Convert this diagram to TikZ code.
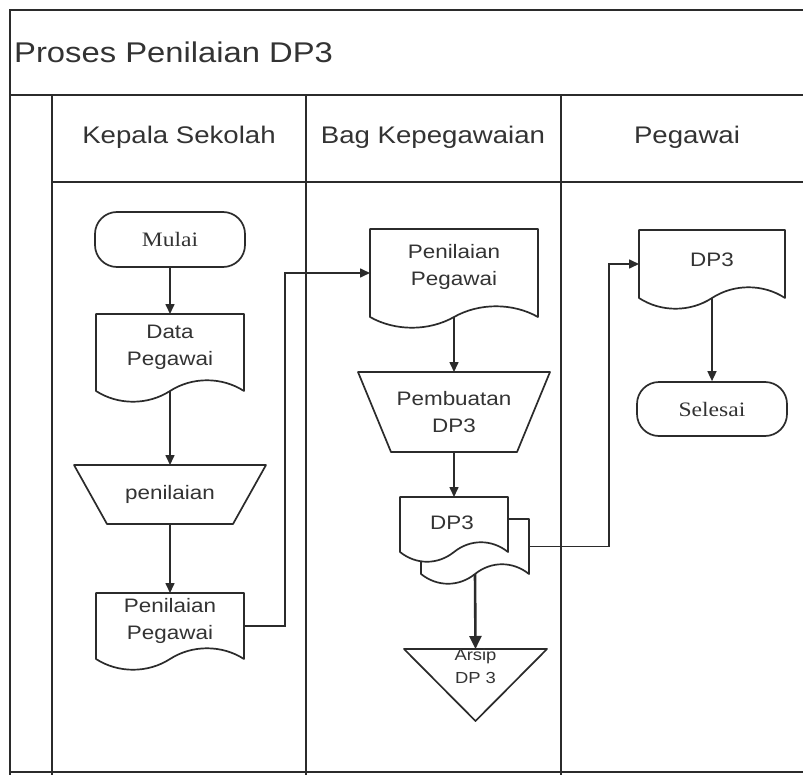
\documentclass[tikz,border=0pt]{standalone}
\usepackage{fontspec}
\setmainfont{Liberation Sans}[FakeStretch=1.15]
\newfontfamily\termfont{Liberation Serif}[FakeStretch=1.15]
\usetikzlibrary{arrows.meta,calc}
\definecolor{ink}{HTML}{2B2B2B}
\definecolor{txtc}{HTML}{333333}

\tikzset{
  frame/.style={draw=ink, line width=2.2pt},
  shp/.style={draw=ink, line width=1.7pt, fill=white, line join=round},
  flow/.style={draw=ink, line width=1.6pt, -{Triangle[length=10pt,width=9pt]}},
  boldflow/.style={draw=ink, line width=2.6pt, -{Triangle[length=13pt,width=12pt]}},
  area/.style={draw=none, inner sep=0pt, outer sep=0pt},
  lbl/.style={text=txtc, align=center, inner sep=0pt, font=\fontsize{19.5}{27}\selectfont},
  smalllbl/.style={text=txtc, align=center, inner sep=0pt, font=\fontsize{16}{23}\selectfont},
  term/.style={shp, rounded corners=22pt, inner sep=0pt, text=txtc,
    font=\termfont\fontsize{20.5}{24}\selectfont},
  head/.style={text=txtc, inner sep=0pt, font=\fontsize{24}{28}\selectfont},
  titletext/.style={text=txtc, inner sep=0pt, anchor=west, font=\fontsize{28.5}{32}\selectfont},
}

% document symbol: name, left x, top y, right x, y where the wavy edge meets the sides, wave depth
\newcommand\docshape[6]{%
  \draw[shp] (#2,#5) -- (#2,#3) -- (#4,#3) -- (#4,#5)
    .. controls ({#4-0.15*(#4-#2)},{#5-1.3*#6}) and ({#4-0.35*(#4-#2)},{#5-1.3*#6}) .. ({(#2+#4)/2},#5)
    .. controls ({#2+0.35*(#4-#2)},{#5+1.3*#6}) and ({#2+0.15*(#4-#2)},{#5+1.3*#6}) .. cycle;
  \node[area, minimum width={(#4-#2)*1pt}, minimum height={(#5-#3)*1pt}] (#1)
    at ({(#2+#4)/2},{(#3+#5)/2}) {};
}

\begin{document}
\begin{tikzpicture}[x=1pt, y=-1pt]
  \useasboundingbox (0,0) rectangle (803,781);
  \fill[white] (0,0) rectangle (803,781);

  % pool and swimlanes
  \draw[frame] (803,10) -- (10,10) -- (10,775);
  \draw[frame] (10,95) -- (803,95);
  \draw[frame] (52,95) -- (52,775);
  \draw[frame] (52,182) -- (803,182);
  \draw[frame] (306,95) -- (306,775);
  \draw[frame] (561,95) -- (561,775);
  \draw[frame] (10,772) -- (803,772);

  \node[titletext] (title) at (14,52) {Proses Penilaian DP3};
  \node[head] (laneA) at (179,137) {Kepala Sekolah};
  \node[head] (laneB) at (433,137) {Bag Kepegawaian};
  \node[head] (laneC) at (687,137) {Pegawai};

  % Kepala Sekolah
  \node[term, minimum width=150pt, minimum height=55pt] (mulai) at (170,239.5) {Mulai};

  \docshape{datap}{96}{314}{244}{391}{11}
  \node[lbl] (datapt) at (170,347) {Data\\Pegawai};

  \draw[shp] (74,465) -- (266,465) -- (233,524) -- (107,524) -- cycle;
  \node[area, lbl, minimum width=192pt, minimum height=59pt] (penil) at (170,494.5) {penilaian};

  \docshape{penpegL}{96}{593}{244}{659}{11}
  \node[lbl] (penpegLt) at (170,621) {Penilaian\\Pegawai};

  % Bag Kepegawaian
  \docshape{penpegB}{370}{229}{538}{317}{11}
  \node[lbl] (penpegBt) at (454,266.5) {Penilaian\\Pegawai};

  \draw[shp] (358,372) -- (550,372) -- (517,452) -- (391,452) -- cycle;
  \node[area, lbl, minimum width=192pt, minimum height=80pt] (buat) at (454,412) {Pembuatan\\DP3};

  \docshape{dp3b}{421}{519}{529}{574}{10}
  \docshape{dp3f}{400}{497}{508}{552}{10}
  \node[lbl] (dp3ft) at (452,523) {DP3};

  \draw[shp] (404,649) -- (547,649) -- (475.5,721) -- cycle;
  \node[area, minimum width=143pt, minimum height=72pt] (arsip) at (475.5,685) {};
  \node[smalllbl] (arsipt) at (475.5,666.5) {Arsip\\DP 3};

  % Pegawai
  \docshape{dp3P}{639}{230}{785}{298}{11}
  \node[lbl] (dp3Pt) at (712,260) {DP3};

  \node[term, minimum width=150pt, minimum height=54pt] (selesai) at (712,409) {Selesai};

  % flows
  \coordinate (jogA) at (285,0);
  \coordinate (jogB) at (609,0);

  \draw[flow] (mulai.south) -- (datap.north);
  \draw[flow] (datap.south) -- (penil.north);
  \draw[flow] (penil.south) -- (penpegL.north);
  \draw[flow] (penpegL.east) -- (penpegL.east -| jogA) |- (penpegB.west);
  \draw[flow] (penpegB.south) -- (buat.north);
  \draw[flow] (buat.south) -- (dp3f.north);
  \draw[boldflow] (dp3b.south) -- (arsip.north);
  \draw[flow] (dp3b.east) -- (dp3b.east -| jogB) |- (dp3P.west);
  \draw[flow] (dp3P.south) -- (selesai.north);
\end{tikzpicture}
\end{document}
